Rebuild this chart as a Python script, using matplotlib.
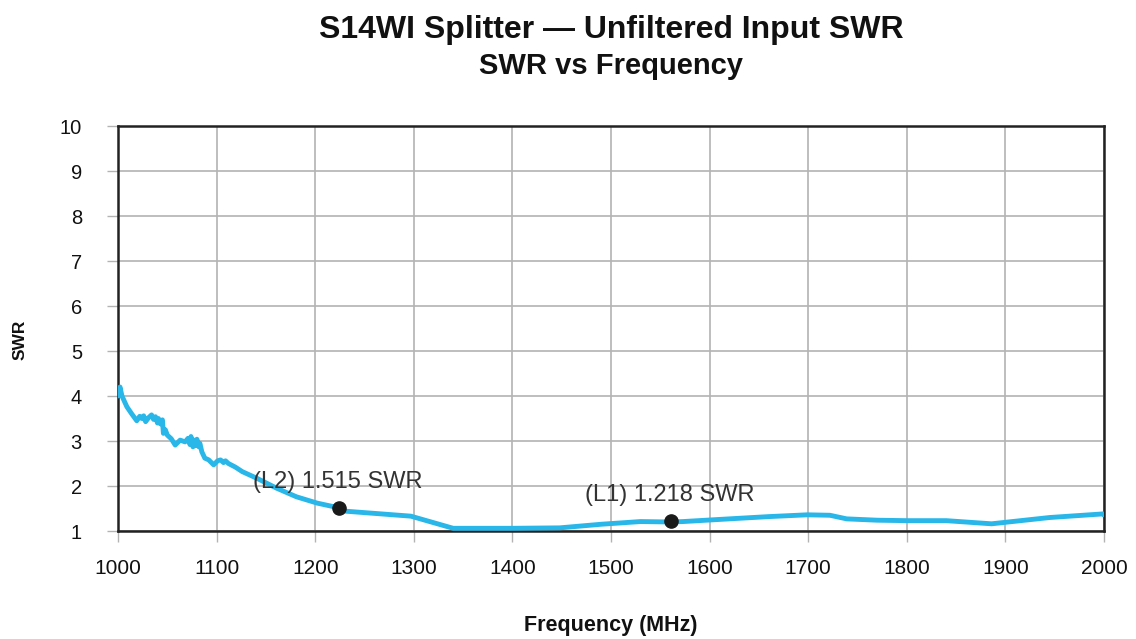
import matplotlib
matplotlib.use("Agg")
import matplotlib.pyplot as plt

plt.rcParams['font.family'] = ['Liberation Sans', 'DejaVu Sans']

freq = [1000, 1002, 1004, 1009, 1014, 1019, 1022, 1024, 1026, 1028, 1031, 1034, 1036, 1038,
        1040, 1041, 1043, 1045, 1046, 1048, 1050, 1054, 1058, 1063, 1068, 1071, 1073, 1074,
        1076, 1077, 1079, 1080, 1082, 1083, 1085, 1088, 1092, 1097, 1101, 1104, 1107, 1109,
        1112, 1119, 1126, 1141, 1161, 1181, 1202, 1224, 1231, 1297, 1340, 1400, 1448, 1490,
        1530, 1561, 1573, 1620, 1660, 1699, 1722, 1739, 1770, 1800, 1840, 1886, 1945, 1999,
        2000]
swr = [4.00, 4.20, 4.00, 3.76, 3.60, 3.45, 3.55, 3.50, 3.56, 3.43, 3.52, 3.58, 3.48, 3.54,
       3.40, 3.50, 3.38, 3.47, 3.17, 3.25, 3.13, 3.05, 2.91, 3.02, 2.98, 3.06, 2.92, 3.10,
       2.87, 3.02, 2.90, 3.04, 2.87, 2.95, 2.76, 2.62, 2.58, 2.47, 2.56, 2.58, 2.52, 2.56,
       2.50, 2.42, 2.32, 2.17, 1.95, 1.76, 1.62, 1.515, 1.44, 1.33, 1.06, 1.06, 1.07, 1.15,
       1.21, 1.20, 1.21, 1.27, 1.32, 1.36, 1.35, 1.27, 1.24, 1.23, 1.23, 1.16, 1.30, 1.38,
       1.36]

marker_freq = [1224, 1561]
marker_swr = [1.515, 1.218]
marker_labels = ["(L2) 1.515 SWR", "(L1) 1.218 SWR"]
label_pos = [(1137, 2.09), (1474, 1.79)]

xticks = list(range(1000, 2001, 100))
yticks = list(range(1, 11))

fig = plt.figure(figsize=(11.36, 6.39), dpi=100)
ax = fig.add_axes([0.1039, 0.169, 0.8679, 0.6338])

ax.plot(freq, swr, color='#29B6E8', lw=3.5, solid_capstyle='round', solid_joinstyle='round', zorder=3)
ax.plot(marker_freq, marker_swr, 'o', color='#1a1a1a', ms=9.5, zorder=4)

for (lx, ly), txt in zip(label_pos, marker_labels):
    ax.text(lx, ly, txt, fontsize=17, color='#333333', ha='left', va='center', zorder=5)

ax.set_xlim(1000, 2000)
ax.set_ylim(1, 10)
ax.set_xticks(xticks)
ax.set_yticks(yticks)
ax.grid(True, color='#b3b3b3', lw=1.2)
ax.set_axisbelow(True)
for s in ax.spines.values():
    s.set_color('#222222')
    s.set_linewidth(1.8)
ax.tick_params(axis='both', length=8, width=1, color='#b3b3b3', labelcolor='#111111')
ax.tick_params(axis='x', pad=12, labelsize=15)
ax.tick_params(axis='y', pad=18, labelsize=14.5)

cx = 0.1039 + 0.8679 / 2
fig.text(cx, 0.953, "S14WI Splitter \u2014 Unfiltered Input SWR", ha='center', va='center',
         fontsize=23, fontweight='bold', color='#111111')
fig.text(cx, 0.897, "SWR vs Frequency", ha='center', va='center',
         fontsize=21, fontweight='bold', color='#111111')
fig.text(cx, 1 - 625/639, "Frequency (MHz)", ha='center', va='center', fontsize=15.5, fontweight='bold', color='#111111')
fig.text(20/1136, 1 - 340/639, "SWR", ha='center', va='center', rotation=90, fontsize=12.5, fontweight='bold', color='#111111')

fig.savefig("out.png", dpi=100)
